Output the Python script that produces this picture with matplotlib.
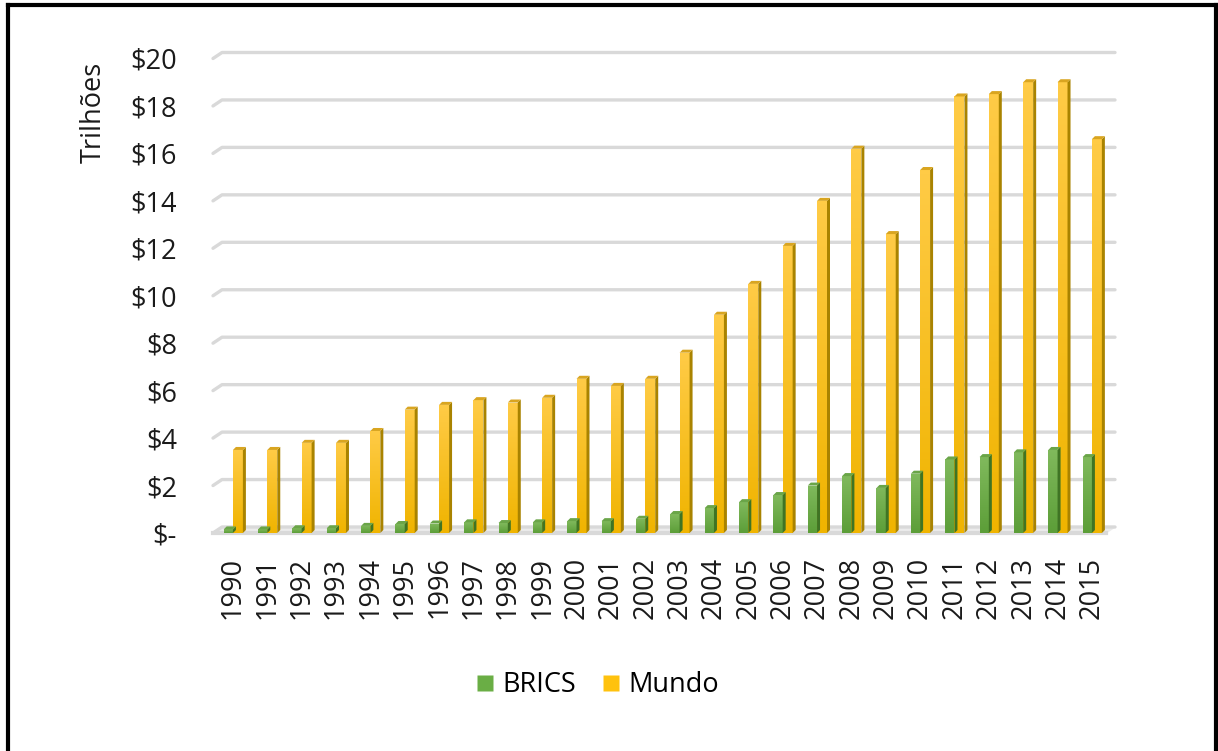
import numpy as np
import matplotlib.pyplot as plt
from matplotlib.patches import Polygon
from matplotlib.lines import Line2D

# PIB em trilhoes de dolares
anos = list(range(1990, 2016))
brics = [0.15, 0.15, 0.2, 0.2, 0.3, 0.38, 0.4, 0.45, 0.42, 0.45,
         0.5, 0.5, 0.6, 0.8, 1.05, 1.3, 1.6, 2.0, 2.4, 1.9,
         2.5, 3.1, 3.2, 3.4, 3.5, 3.2]
mundo = [3.5, 3.5, 3.8, 3.8, 4.3, 5.2, 5.4, 5.6, 5.5, 5.7,
         6.5, 6.2, 6.5, 7.6, 9.2, 10.5, 12.1, 14.0, 16.2, 12.6,
         15.3, 18.4, 18.5, 19.0, 19.0, 16.6]
yticks = list(range(0, 22, 2))
ytick_labels = ['$-'] + [f'${v}' for v in yticks[1:]]

FONT = 'Open Sans'
W, H = 1218, 751

fig = plt.figure(figsize=(W / 100, H / 100), dpi=100)
fig.patch.set_facecolor('white')

# axes placed in pixel terms (front plane of the 3D box)
ax_l, ax_r, ax_b, ax_t = 213, 1106, 533, 58.5
ax = fig.add_axes([ax_l / W, 1 - ax_b / H, (ax_r - ax_l) / W, (ax_b - ax_t) / H])
x0, x1 = -0.58, 25.41
ax.set_xlim(x0, x1)
ax.set_ylim(0, 20)
for s in ax.spines.values():
    s.set_visible(False)
ax.patch.set_alpha(0)

px_x = (x1 - x0) / (ax_r - ax_l)
px_y = 20 / (ax_b - ax_t)
depth_x, depth_y = 9 * px_x, 6 * px_y      # back wall offset
side_x, side_y = 3 * px_x, 3 * px_y        # bar side/top bevel

# gridlines on the back wall with the little diagonal at the left
for v in yticks:
    ax.plot([x0, x0 + depth_x, x1 + depth_x], [v, v + depth_y, v + depth_y],
            color='#d9d9d9', lw=2.4, solid_capstyle='round', clip_on=False, zorder=1)
# front edge of the floor
ax.plot([x0, x1], [0, 0], color='#d9d9d9', lw=3, clip_on=False, zorder=1)
ax.fill_between([x0, x0 + depth_x, x1 + depth_x, x1], [0, depth_y, depth_y, 0], 0,
                color='#ececec', lw=0, zorder=0.9, clip_on=False)

x = np.arange(len(anos))
wg, wy = 0.27, 0.29


def draw_bars(left, width, values, top_c, bot_c, side_c, cap_c):
    bars = ax.bar(left, values, width, align='edge', color=bot_c, lw=0, zorder=3)
    grad = np.linspace(0, 1, 64).reshape(-1, 1)
    cmap = plt.matplotlib.colors.LinearSegmentedColormap.from_list('g', [bot_c, top_c])
    for b, xl, v in zip(bars, left, values):
        im = ax.imshow(grad, extent=[xl, xl + width, 0, v], origin='lower', cmap=cmap,
                       aspect='auto', zorder=3.1, interpolation='bilinear')
        im.set_clip_path(b)
        xr = xl + width
        ax.add_patch(Polygon([[xr, 0], [xr + side_x, side_y], [xr + side_x, v + side_y], [xr, v]],
                             closed=True, fc=side_c, lw=0, zorder=3.2))
        ax.add_patch(Polygon([[xl, v], [xr, v], [xr + side_x, v + side_y], [xl + side_x, v + side_y]],
                             closed=True, fc=cap_c, lw=0, zorder=3.2))


draw_bars(x - wg, wg, brics, '#80b95c', '#5c9e38', '#3f7424', '#6aa548')
draw_bars(x, wy, mundo, '#ffcb46', '#f0b400', '#a98300', '#d9a520')
ax.set_xlim(x0, x1)
ax.set_ylim(0, 20)

ax.set_yticks(yticks)
ax.set_yticklabels(ytick_labels, fontsize=19.5, family=FONT, color='#1a1a1a')
ax.set_xticks(x)
ax.set_xticklabels([str(a) for a in anos], rotation=90, fontsize=19.5, family=FONT,
                   color='#1a1a1a', va='top', ha='center')
ax.tick_params(axis='y', length=0, pad=26)
ax.tick_params(axis='x', length=0, pad=17)
ax.set_ylabel('Trilhões', fontsize=19.5, family=FONT, color='#1a1a1a')
ax.yaxis.set_label_coords(-(ax_l - 108) / (ax_r - ax_l), (ax_b - 112) / (ax_b - ax_t))

# legend
handles = [Line2D([], [], marker='s', ls='', ms=12, color='#6aae45', mec='none'),
           Line2D([], [], marker='s', ls='', ms=12, color='#ffc20e', mec='none')]
fig.legend(handles, ['BRICS', 'Mundo'], loc='center', bbox_to_anchor=(598 / W, 1 - 685 / H),
           ncol=2, frameon=False, prop={'family': FONT, 'size': 19.5},
           handlelength=0.6, handletextpad=0.35, columnspacing=1.0)

# outer frame (open at the bottom)
frame = dict(color='black', lw=3, transform=fig.transFigure)
fig.add_artist(Line2D([8 / W, 8 / W], [0, 1 - 5 / H], **frame))
fig.add_artist(Line2D([8 / W, 1216 / W], [1 - 5 / H, 1 - 5 / H], **frame))
fig.add_artist(Line2D([1216 / W, 1216 / W], [0, 1 - 5 / H], **frame))

fig.savefig('out.png', dpi=100)
